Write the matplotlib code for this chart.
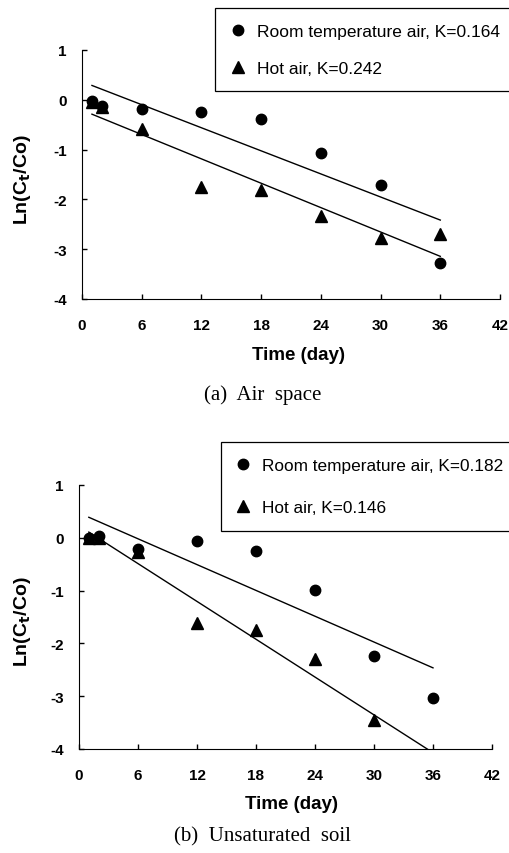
import matplotlib
matplotlib.use("Agg")
from matplotlib import pyplot as plt
import numpy as np

plt.rcParams['font.family'] = ['Liberation Sans', 'DejaVu Sans']
plt.rcParams['axes.unicode_minus'] = False

# (a) Air space
days_a = [1, 2, 6, 12, 18, 24, 30, 36]
room_a = [-0.03, -0.13, -0.19, -0.25, -0.39, -1.06, -1.71, -3.28]
hot_a = [-0.05, -0.15, -0.59, -1.76, -1.81, -2.34, -2.78, -2.70]

# (b) Unsaturated soil (hot air at day 36 falls below the axis)
days_b = [1, 2, 6, 12, 18, 24, 30, 36]
room_b = [0.0, 0.04, -0.21, -0.07, -0.25, -0.98, -2.24, -3.04]
hot_b = [0.0, 0.0, -0.27, -1.61, -1.75, -2.30, -3.45, -4.2]

labels_a = ["Room temperature air, K=0.164", "Hot air, K=0.242"]
labels_b = ["Room temperature air, K=0.182", "Hot air, K=0.146"]
xticks = [0, 6, 12, 18, 24, 30, 36, 42]
yticks = [1, 0, -1, -2, -3, -4]

W, H = 510, 854
fig = plt.figure(figsize=(W / 100, H / 100), dpi=100)


def panel(box, days, room, hot, labels, leg_xy, leg_fs, leg_sp, ylab_xy, xlab_xy, cap_xy, caption):
    l, b, r, t = box
    ax = fig.add_axes([l / W, 1 - b / H, (r - l) / W, (b - t) / H])
    x = np.array(days, dtype=float)
    h1, = ax.plot(days, room, 'o', color='black', ms=7.5, ls='none')
    h2, = ax.plot(days, hot, '^', color='black', ms=8.5, ls='none')
    for y in (room, hot):
        p = np.polyfit(x, y, 1)
        xx = np.array([x[0], x[-1]])
        ax.plot(xx, np.polyval(p, xx), color='black', lw=1.0)
    ax.set_xlim(0, 42)
    ax.set_ylim(-4, 1)
    ax.set_xticks(xticks)
    ax.set_yticks(yticks)
    ax.spines['top'].set_visible(False)
    ax.spines['right'].set_visible(False)
    ax.tick_params(direction='in', length=3.5, width=1, labelsize=11, pad=14)
    for lab in ax.get_xticklabels() + ax.get_yticklabels():
        lab.set_fontweight('bold')
    ax.tick_params(axis='y', pad=11)
    fig.text(ylab_xy[0] / W, 1 - ylab_xy[1] / H, "Ln(C$_\\mathbf{t}$/Co)", rotation=90,
             ha='center', va='center', fontsize=14, fontweight='bold')
    fig.text(xlab_xy[0] / W, 1 - xlab_xy[1] / H, "Time (day)", ha='center', va='center',
             fontsize=13.5, fontweight='bold')
    fig.text(cap_xy[0] / W, 1 - cap_xy[1] / H, caption, ha='center', va='center',
             fontsize=15, family='Liberation Serif')
    fig.legend([h1, h2], labels, loc='upper left',
               bbox_to_anchor=(leg_xy[0] / W, 1 - leg_xy[1] / H),
               fontsize=leg_fs, frameon=True, fancybox=False, edgecolor='black',
               framealpha=1, handlelength=0.8, handletextpad=0.7,
               labelspacing=leg_sp, borderpad=0.9, borderaxespad=0)
    fig.legends[-1].get_frame().set_linewidth(0.9)
    return ax


panel((82, 300, 500, 51), days_a, room_a, hot_a, labels_a, (215, 9), 12.5, 1.25,
      (23, 180), (298, 356), (263, 395), "(a)  Air  space")
panel((79, 750, 492, 486), days_b, room_b, hot_b, labels_b, (221, 443), 12.4, 1.6,
      (23, 622), (292, 805), (262, 837), "(b)  Unsaturated  soil")

fig.savefig("out.png", dpi=100)
